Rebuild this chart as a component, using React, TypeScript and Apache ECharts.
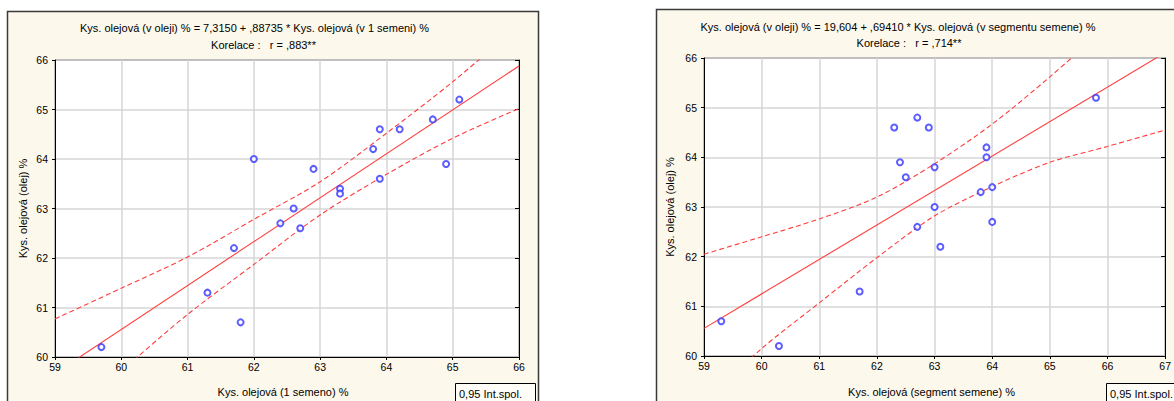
import React, { useEffect, useRef } from "react";
import * as echarts from "echarts";

// Oil oleic acid content (y, both panels), one value per sample
const oilContent = [65.2, 64.8, 64.6, 64.6, 64.2, 63.9, 63.6, 63.4, 63.3, 63.8, 63.0, 62.7, 62.6, 64.0, 62.2, 61.3, 60.7, 60.2];
// Oleic acid in 1 seed (x, left panel)
const seedOne = [65.1, 64.7, 64.2, 63.9, 63.8, 64.9, 63.9, 63.3, 63.3, 62.9, 62.6, 62.4, 62.7, 62.0, 61.7, 61.3, 61.8, 59.7];
// Oleic acid in seed segment (x, right panel)
const seedSegment = [65.8, 62.7, 62.3, 62.9, 63.9, 62.4, 62.5, 64.0, 63.8, 63.0, 63.0, 64.0, 62.7, 63.9, 63.1, 61.7, 59.3, 60.3];

// Regression lines from the titles: [intercept, slope]
const fitLeft = [7.315, 0.88735];
const fitRight = [19.604, 0.6941];

// 0.95 confidence bands
const bandXLeft = [59, 60, 61, 62, 63, 64, 65, 66];
const upperLeft = [60.77, 61.39, 62.02, 62.78, 63.54, 64.52, 65.56, 66.7];
const lowerLeft = [58.57, 59.72, 60.86, 61.87, 62.87, 63.69, 64.42, 65.02];
const bandXRight = [59, 60, 61, 62, 63, 64, 65, 66, 67];
const upperRight = [62.05, 62.4, 62.76, 63.2, 63.87, 64.67, 65.62, 66.65, 67.7];
const lowerRight = [59.07, 60.15, 61.07, 61.98, 62.82, 63.41, 63.9, 64.22, 64.55];

// Axis ranges
const xRangeLeft = [59, 66];
const xRangeRight = [59, 67];
const yRange = [60, 66];

// Texts
const titleLeft = "Kys. olejová (v oleji) % = 7,3150 + ,88735 * Kys. olejová (v 1 semeni) %";
const corrLeft = "Korelace :   r = ,883**";
const titleRight = "Kys. olejová (v oleji) % = 19,604 + ,69410 * Kys. olejová (v segmentu semene) %";
const corrRight = "Korelace :   r = ,714**";
const xNameLeft = "Kys. olejová (1 semeno) %";
const xNameRight = "Kys. olejová (segment semene) %";
const yName = "Kys. olejová (olej) %";
const legendText = "0,95 Int.spol.";

const FONT = "'Liberation Sans', Arial, sans-serif";
const RED = "#ff3d3d";
const BLUE = "#3434ff";

export default function App() {
  const ref = useRef<HTMLDivElement>(null);

  useEffect(() => {
    document.body.style.margin = "0";
    const chart = echarts.init(ref.current!, null, { renderer: "svg" });

    const xAxisBase = (gridIndex: number, range: number[]) => ({
      type: "value",
      gridIndex,
      min: range[0],
      max: range[1],
      interval: 1,
      axisLine: { show: true, onZero: false, lineStyle: { color: "#000", width: 1 } },
      axisTick: { show: true, length: 3, lineStyle: { color: "#000" } },
      axisLabel: { fontSize: 10.5, color: "#000", margin: 4, fontFamily: FONT },
      splitLine: { show: true, lineStyle: { color: "#d6d6d6", width: 1.5 } },
    });
    const yAxisLeft = (gridIndex: number) => ({
      type: "value",
      gridIndex,
      min: yRange[0],
      max: yRange[1],
      interval: 1,
      axisLine: { show: true, onZero: false, lineStyle: { color: "#000", width: 1 } },
      axisTick: { show: true, length: 3, lineStyle: { color: "#000" } },
      axisLabel: { fontSize: 10.5, color: "#000", margin: 7, fontFamily: FONT },
      splitLine: { show: true, lineStyle: { color: "#d6d6d6", width: 1.5 } },
    });
    const yAxisRight = (gridIndex: number) => ({
      type: "value",
      gridIndex,
      position: "right",
      min: yRange[0],
      max: yRange[1],
      interval: 1,
      axisLine: { show: true, onZero: false, lineStyle: { color: "#000", width: 1 } },
      axisTick: { show: true, inside: true, length: 4, lineStyle: { color: "#000" } },
      axisLabel: { show: false },
      splitLine: { show: false },
    });

    const zip = (xs: number[], ys: number[]) => xs.map((x, i) => [x, ys[i]]);
    const fitLine = (fit: number[], range: number[]) => [
      [range[0], fit[0] + fit[1] * range[0]],
      [range[1], fit[0] + fit[1] * range[1]],
    ];

    const scatter = (xi: number, yi: number, xs: number[]) => ({
      type: "scatter",
      xAxisIndex: xi,
      yAxisIndex: yi,
      data: zip(xs, oilContent),
      symbol: "emptyCircle",
      symbolSize: 6,
      itemStyle: { color: BLUE, borderWidth: 1.4 },
      z: 6,
    });
    const solid = (xi: number, yi: number, data: number[][]) => ({
      type: "line",
      xAxisIndex: xi,
      yAxisIndex: yi,
      data,
      showSymbol: false,
      clip: true,
      lineStyle: { color: RED, width: 1.1 },
      z: 4,
    });
    const dashed = (xi: number, yi: number, data: number[][]) => ({
      type: "line",
      xAxisIndex: xi,
      yAxisIndex: yi,
      data,
      smooth: 0.3,
      showSymbol: false,
      clip: true,
      lineStyle: { color: RED, width: 1.1, type: [5, 3] },
      z: 4,
    });

    const text = (t: string, x: number, y: number, align = "center", extra: any = {}) => ({
      type: "text",
      x,
      y,
      z: 20,
      silent: true,
      ...extra,
      style: {
        text: t,
        x: 0,
        y: 0,
        fill: "#000",
        fontSize: 11,
        fontFamily: FONT,
        align,
        verticalAlign: "middle",
        textAlign: align,
        textVerticalAlign: "middle",
      },
    });

    const option: any = {
      animation: false,
      backgroundColor: "#fff",
      grid: [
        { left: 55, top: 60, width: 464, height: 297, show: true, backgroundColor: "#fff", borderColor: "#000", borderWidth: 1 },
        { left: 704, top: 58, width: 467, height: 298, show: true, backgroundColor: "#fff", borderColor: "#000", borderWidth: 1 },
      ],
      xAxis: [xAxisBase(0, xRangeLeft), xAxisBase(1, xRangeRight)],
      yAxis: [yAxisLeft(0), yAxisRight(0), yAxisLeft(1), yAxisRight(1)],
      series: [
        dashed(0, 0, zip(bandXLeft, upperLeft)),
        dashed(0, 0, zip(bandXLeft, lowerLeft)),
        solid(0, 0, fitLine(fitLeft, xRangeLeft)),
        scatter(0, 0, seedOne),
        dashed(1, 2, zip(bandXRight, upperRight)),
        dashed(1, 2, zip(bandXRight, lowerRight)),
        solid(1, 2, fitLine(fitRight, xRangeRight)),
        scatter(1, 2, seedSegment),
      ],
      graphic: [
        {
          type: "rect",
          z: -10,
          silent: true,
          shape: { x: 7.5, y: 11.5, width: 531, height: 400 },
          style: { fill: "#fdf8ec", stroke: "#3a3a3a", lineWidth: 1.5 },
        },
        {
          type: "rect",
          z: -10,
          silent: true,
          shape: { x: 656.5, y: 9.5, width: 540, height: 400 },
          style: { fill: "#fdf8ec", stroke: "#3a3a3a", lineWidth: 1.5 },
        },
        text(titleLeft, 254.5, 28),
        text(corrLeft, 263.5, 45),
        text(titleRight, 898, 27),
        text(corrRight, 909, 43),
        text(xNameLeft, 283, 392),
        text(xNameRight, 931.5, 392),
        text(yName, 22.5, 208.5, "center", { rotation: Math.PI / 2 }),
        text(yName, 670, 207, "center", { rotation: Math.PI / 2 }),
        {
          type: "rect",
          z: 15,
          silent: true,
          shape: { x: 455.5, y: 383.5, width: 80, height: 30 },
          style: { fill: "#fffdf8", stroke: "#000", lineWidth: 1 },
        },
        text(legendText, 459, 393.5, "left"),
        {
          type: "rect",
          z: 15,
          silent: true,
          shape: { x: 1106.5, y: 383.5, width: 80, height: 30 },
          style: { fill: "#fffdf8", stroke: "#000", lineWidth: 1 },
        },
        text(legendText, 1110, 393.5, "left"),
      ],
    };

    chart.setOption(option);
    return () => chart.dispose();
  }, []);

  return <div ref={ref} style={{ width: 1174, height: 401 }} />;
}
